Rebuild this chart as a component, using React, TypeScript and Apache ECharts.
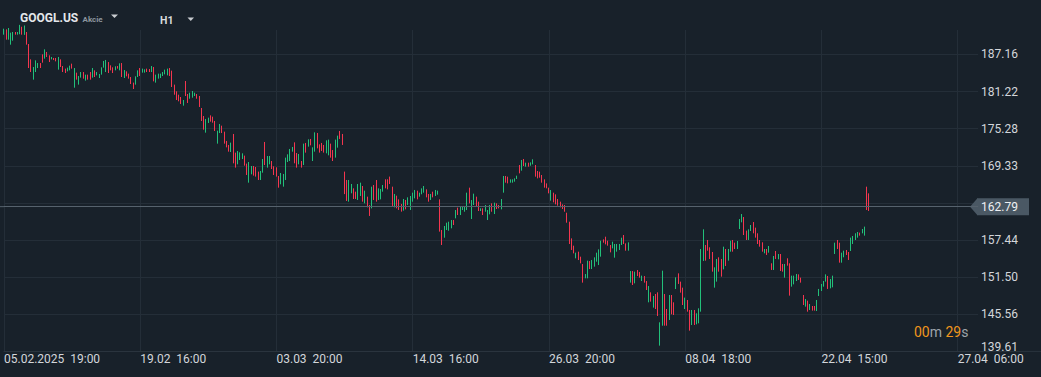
import React, { useEffect, useRef } from "react";
import * as echarts from "echarts";

// X axis tick labels (one every 60 hourly bars)
const xTickLabels = [
  "05.02.2025  19:00",
  "19.02  16:00",
  "03.03  20:00",
  "14.03  16:00",
  "26.03  20:00",
  "08.04  18:00",
  "22.04  15:00",
  "27.04  06:00",
];
const barsPerLabel = 60;
const totalSlots = 430;

// Y axis tick labels
const yTickLabels = ["139.61", "145.56", "151.50", "157.44", "163.39", "169.33", "175.28", "181.22", "187.16"];
const yMin = 139.61;
const yMax = 191.08;
const yStep = 5.94375;

const lastPrice = 162.79;

// [open, close, low, high] hourly candles, GOOGL.US
const candles: number[][] = [
  [190.4, 191.2, 190.33, 191.29], [191.0, 189.7, 189.53, 191.18], [189.8, 191.2, 189.53, 191.4], [189.0, 190.4, 188.73, 190.65],
  [189.6, 190.6, 189.37, 190.76], [190.7, 190.4, 190.33, 190.76], [190.4, 190.7, 190.33, 190.76], [190.5, 190.9, 190.4, 191.9],
  [190.9, 190.5, 190.33, 191.6], [190.5, 190.8, 190.3, 191.8], [190.6, 188.9, 188.73, 190.76], [188.6, 185.2, 184.99, 188.84],
  [186.2, 184.5, 184.35, 186.38], [183.4, 184.9, 183.13, 185.15], [184.6, 186.0, 184.35, 186.22], [185.1, 185.7, 184.99, 185.79],
  [185.7, 185.1, 184.99, 185.79], [187.0, 186.0, 185.85, 187.18], [186.7, 187.8, 186.49, 187.98], [187.4, 186.9, 186.76, 187.56],
  [186.9, 186.1, 185.95, 187.02], [186.4, 186.7, 186.38, 186.76], [186.6, 186.3, 186.27, 186.6], [186.5, 186.1, 186.06, 186.6],
  [185.0, 186.6, 184.73, 186.76], [186.2, 185.3, 185.15, 186.38], [185.2, 184.5, 184.35, 185.31], [184.8, 184.3, 184.19, 184.89],
  [184.5, 185.0, 184.46, 185.05], [184.7, 185.3, 184.62, 185.37], [185.6, 185.0, 184.89, 185.69], [182.2, 184.7, 181.84, 184.99],
  [184.1, 183.3, 183.13, 184.25], [182.5, 183.5, 182.33, 183.71], [183.6, 184.2, 183.45, 184.35], [184.2, 183.4, 183.29, 184.35],
  [183.1, 183.8, 182.97, 183.93], [183.8, 183.2, 183.13, 183.93], [184.2, 183.3, 183.13, 184.35], [183.6, 184.8, 183.45, 184.99],
  [184.5, 183.7, 183.55, 184.62], [183.9, 184.3, 183.82, 184.35], [183.5, 184.0, 183.39, 184.03], [184.0, 185.0, 183.93, 185.1],
  [185.2, 186.0, 185.05, 186.12], [184.6, 186.1, 184.35, 186.28], [185.8, 184.4, 184.19, 185.95], [185.3, 184.7, 184.62, 185.42],
  [185.0, 184.3, 184.19, 185.1], [184.7, 185.2, 184.62, 185.26], [185.3, 184.9, 184.89, 185.31], [184.7, 185.6, 184.62, 185.74],
  [185.6, 183.8, 183.55, 185.79], [183.5, 184.5, 183.39, 184.67], [184.4, 183.8, 183.66, 184.46], [184.0, 183.4, 183.29, 184.09],
  [183.4, 182.6, 182.43, 183.55], [182.5, 181.8, 181.63, 182.65], [182.5, 183.5, 182.33, 183.66], [183.7, 184.5, 183.55, 184.62],
  [184.8, 183.9, 183.71, 184.99], [184.3, 184.8, 184.25, 184.89], [184.3, 184.7, 184.25, 184.78], [184.8, 184.4, 184.35, 184.89],
  [184.8, 184.4, 184.35, 184.83], [184.5, 185.2, 184.35, 185.31], [185.0, 183.1, 182.86, 185.15], [182.8, 183.8, 182.65, 183.93],
  [183.4, 184.0, 183.29, 184.09], [183.5, 184.0, 183.39, 184.09], [183.8, 184.3, 183.71, 184.35], [184.1, 184.6, 183.98, 184.73],
  [183.9, 184.8, 183.82, 184.89], [184.8, 183.9, 183.71, 184.99], [184.3, 182.2, 181.95, 184.57], [182.1, 180.9, 180.72, 182.33],
  [181.1, 180.0, 179.87, 181.26], [180.6, 179.8, 179.66, 180.72], [180.2, 179.4, 179.23, 180.35], [179.1, 179.8, 178.96, 179.87],
  [182.6, 180.7, 180.51, 182.91], [180.7, 179.5, 179.39, 180.83], [180.2, 180.9, 180.08, 181.04], [180.4, 181.2, 180.24, 181.31],
  [180.6, 181.0, 180.51, 181.04], [180.8, 180.2, 180.08, 180.83], [180.3, 178.9, 178.75, 180.51], [178.4, 176.7, 176.51, 178.59],
  [177.1, 175.4, 175.12, 177.31], [175.0, 176.6, 174.64, 176.83], [176.3, 176.9, 176.19, 177.04], [177.3, 176.5, 176.4, 177.41],
  [177.1, 176.4, 176.24, 177.2], [176.3, 175.1, 174.91, 176.51], [173.2, 174.7, 172.88, 174.96], [174.8, 175.9, 174.58, 176.03],
  [175.6, 174.7, 174.58, 175.76], [174.6, 173.1, 172.88, 174.8], [173.2, 172.4, 172.29, 173.31], [172.5, 171.7, 171.6, 172.67],
  [171.7, 172.9, 171.54, 173.04], [174.1, 170.0, 169.73, 174.43], [171.2, 169.3, 169.04, 171.44], [169.8, 171.5, 169.57, 171.7],
  [170.4, 171.3, 170.26, 171.49], [170.5, 171.2, 170.42, 171.33], [170.8, 169.5, 169.36, 170.96], [169.5, 168.0, 167.86, 169.68],
  [166.9, 169.6, 166.63, 169.94], [168.1, 169.1, 167.97, 169.3], [169.1, 167.9, 167.76, 169.3], [169.0, 167.8, 167.6, 169.14],
  [168.2, 167.2, 167.06, 168.4], [167.2, 168.3, 167.06, 168.5], [168.4, 170.2, 168.23, 170.42], [172.8, 169.7, 169.46, 173.15],
  [169.2, 170.7, 169.04, 170.9], [169.7, 170.7, 169.57, 170.9], [169.9, 169.0, 168.82, 170.1], [169.1, 168.0, 167.86, 169.25],
  [168.9, 167.8, 167.6, 169.09], [167.5, 166.0, 165.83, 167.7], [166.5, 168.0, 166.37, 168.18], [166.2, 167.8, 165.99, 168.02],
  [167.3, 170.4, 167.06, 170.64], [170.1, 171.0, 169.94, 171.17], [170.3, 171.8, 170.1, 172.03], [171.7, 172.3, 171.6, 172.35],
  [172.8, 170.0, 169.73, 173.09], [171.2, 169.3, 169.04, 171.38], [169.7, 171.0, 169.57, 171.22], [170.0, 169.2, 169.04, 170.1],
  [169.7, 172.6, 169.46, 172.88], [172.8, 171.6, 171.44, 172.99], [172.5, 173.4, 172.4, 173.57], [173.5, 172.7, 172.61, 173.63],
  [170.3, 172.1, 170.1, 172.29], [171.8, 174.4, 171.6, 174.69], [174.4, 172.3, 172.13, 174.59], [172.6, 171.6, 171.44, 172.77],
  [172.8, 171.8, 171.7, 172.99], [172.5, 171.6, 171.44, 172.67], [171.5, 173.2, 171.33, 173.41], [171.2, 173.3, 171.01, 173.52],
  [172.7, 170.8, 170.64, 172.88], [171.7, 170.3, 170.1, 171.86], [170.8, 173.3, 170.64, 173.52], [172.4, 174.0, 172.24, 174.16],
  [174.7, 173.8, 173.63, 174.91], [174.3, 172.8, 172.67, 174.43], [168.2, 165.0, 164.8, 168.4], [166.8, 164.0, 163.7, 167.06],
  [163.8, 166.8, 163.59, 167.06], [165.1, 166.3, 164.93, 166.42], [165.5, 164.2, 164.02, 165.72], [165.0, 164.2, 164.02, 165.19],
  [164.0, 166.2, 163.86, 166.42], [164.7, 166.4, 164.5, 166.63], [165.9, 163.8, 163.59, 166.1], [163.5, 165.2, 163.32, 165.35],
  [164.2, 162.9, 162.68, 164.39], [162.9, 161.5, 161.3, 163.06], [162.7, 165.7, 162.52, 165.99], [166.0, 164.0, 163.86, 166.26],
  [166.8, 163.8, 163.59, 167.06], [164.0, 165.5, 163.86, 165.72], [164.1, 165.4, 163.96, 165.62], [165.3, 166.1, 165.19, 166.26],
  [167.0, 165.9, 165.72, 167.17], [167.0, 165.7, 165.56, 167.17], [167.4, 166.6, 166.42, 167.6], [165.7, 163.1, 162.9, 165.99],
  [162.9, 164.6, 162.68, 164.82], [164.3, 162.7, 162.52, 164.55], [163.8, 162.4, 162.26, 163.96], [163.1, 162.1, 161.99, 163.22],
  [162.3, 163.8, 162.15, 164.02], [163.7, 162.5, 162.36, 163.86], [163.2, 164.1, 163.06, 164.28], [162.4, 164.3, 162.26, 164.5],
  [163.7, 164.9, 163.59, 165.03], [164.3, 165.3, 164.12, 165.46], [165.2, 164.1, 163.96, 165.35], [164.5, 165.0, 164.39, 165.03],
  [164.9, 165.6, 164.77, 165.72], [165.2, 166.0, 165.03, 166.1], [165.4, 164.4, 164.28, 165.56], [164.7, 163.7, 163.59, 164.82],
  [164.0, 164.7, 163.86, 164.82], [165.1, 164.4, 164.28, 165.19], [164.6, 165.3, 164.5, 165.46], [164.8, 165.3, 164.71, 165.35],
  [163.6, 159.1, 158.79, 163.96], [158.8, 156.9, 156.65, 159.05], [158.0, 159.5, 157.82, 159.69], [159.2, 160.1, 159.05, 160.22],
  [159.1, 160.2, 158.94, 160.38], [159.5, 160.5, 159.32, 160.65], [160.5, 160.0, 159.85, 160.65], [161.1, 162.1, 160.92, 162.25],
  [162.5, 161.6, 161.45, 162.63], [161.6, 162.7, 161.45, 162.89], [162.3, 162.8, 162.25, 162.89], [162.1, 162.8, 161.98, 162.89],
  [162.5, 164.8, 162.25, 165.03], [165.6, 163.5, 163.32, 165.83], [161.1, 163.6, 160.81, 163.85], [163.2, 164.7, 163.05, 164.87],
  [164.2, 163.0, 162.79, 164.39], [163.4, 162.3, 162.09, 163.59], [162.1, 162.5, 162.09, 162.52], [162.4, 161.6, 161.45, 162.52],
  [162.1, 162.9, 161.98, 163.05], [160.8, 162.1, 160.65, 162.25], [161.7, 162.9, 161.56, 163.05], [163.2, 162.1, 161.98, 163.32],
  [161.8, 163.2, 161.61, 163.43], [163.2, 162.5, 162.41, 163.32], [163.0, 162.6, 162.52, 163.05], [162.5, 163.9, 162.36, 164.01],
  [165.2, 167.5, 165.03, 167.7], [167.6, 166.8, 166.63, 167.7], [167.5, 166.6, 166.52, 167.59], [166.7, 167.1, 166.63, 167.16],
  [166.7, 167.1, 166.63, 167.16], [166.8, 167.3, 166.79, 167.32], [167.3, 167.7, 167.22, 167.75], [169.3, 168.3, 168.12, 169.46],
  [168.7, 170.1, 168.55, 170.26], [170.3, 169.4, 169.3, 170.42], [169.2, 169.8, 169.19, 169.83], [169.8, 169.3, 169.19, 169.83],
  [169.4, 169.8, 169.35, 169.88], [169.6, 170.3, 169.56, 170.37], [169.3, 167.8, 167.59, 169.46], [168.4, 167.5, 167.32, 168.5],
  [168.3, 167.5, 167.43, 168.39], [167.7, 166.8, 166.63, 167.86], [167.0, 166.0, 165.83, 167.16], [166.4, 165.8, 165.72, 166.52],
  [165.7, 165.0, 164.92, 165.83], [163.9, 165.3, 163.75, 165.45], [164.9, 163.6, 163.48, 165.03], [164.6, 163.3, 163.16, 164.76],
  [163.9, 163.1, 162.95, 164.01], [163.5, 162.8, 162.68, 163.59], [163.1, 162.5, 162.41, 163.16], [162.9, 162.1, 161.98, 163.05],
  [161.6, 160.4, 160.22, 161.82], [160.1, 157.1, 156.81, 160.38], [157.5, 156.0, 155.85, 157.71], [156.4, 155.4, 155.31, 156.54],
  [154.6, 155.3, 154.51, 155.42], [155.4, 154.4, 154.24, 155.58], [154.6, 153.8, 153.71, 154.78], [153.3, 150.9, 150.62, 153.6],
  [151.4, 151.9, 151.31, 152.0], [151.5, 153.9, 151.31, 154.14], [153.9, 152.9, 152.8, 154.08], [152.9, 154.1, 152.8, 154.24],
  [153.3, 154.5, 153.18, 154.67], [154.1, 155.3, 153.98, 155.42], [153.6, 155.7, 153.44, 155.95], [155.0, 157.1, 154.78, 157.34],
  [157.5, 157.1, 157.02, 157.55], [157.8, 156.9, 156.75, 157.98], [157.2, 156.6, 156.54, 157.34], [156.5, 155.6, 155.47, 156.65],
  [156.2, 157.1, 156.11, 157.18], [154.8, 156.6, 154.62, 156.81], [155.7, 156.7, 155.58, 156.81], [155.9, 156.7, 155.85, 156.81],
  [156.8, 157.7, 156.65, 157.82], [158.1, 156.9, 156.81, 158.25], [156.8, 155.9, 155.74, 156.91], [155.9, 157.0, 155.74, 157.07],
  [150.8, 152.3, 150.62, 152.48], [152.3, 150.4, 150.24, 152.48], [150.7, 152.2, 150.51, 152.38], [152.5, 151.8, 151.68, 152.64],
  [152.2, 151.5, 151.42, 152.32], [151.0, 151.7, 150.88, 151.74], [151.5, 150.7, 150.62, 151.68], [150.7, 149.6, 149.44, 150.88],
  [147.7, 149.9, 147.47, 150.08], [148.9, 147.7, 147.58, 149.07], [146.8, 148.3, 146.62, 148.48], [148.6, 146.6, 146.4, 148.8],
  [148.8, 145.6, 145.28, 149.07], [140.9, 144.0, 140.53, 144.27], [144.0, 152.2, 143.73, 152.54], [148.5, 144.0, 143.73, 148.8],
  [146.2, 144.0, 143.73, 146.4], [145.0, 148.3, 144.64, 148.64], [148.4, 145.8, 145.55, 148.64], [147.3, 145.6, 145.44, 147.47],
  [149.8, 151.3, 149.6, 151.47], [151.9, 150.6, 150.41, 152.11], [150.6, 149.2, 149.02, 150.78], [149.6, 147.3, 147.04, 149.82],
  [146.6, 148.0, 146.4, 148.22], [147.6, 146.2, 145.97, 147.84], [146.0, 143.2, 142.93, 146.24], [144.1, 146.0, 143.84, 146.24],
  [146.0, 144.1, 143.84, 146.24], [144.2, 145.5, 143.95, 145.71], [144.4, 146.3, 144.11, 146.51], [146.3, 155.7, 145.97, 156.01],
  [154.4, 158.8, 154.09, 159.16], [156.4, 154.4, 154.14, 156.65], [157.3, 155.9, 155.74, 157.45], [156.1, 154.6, 154.41, 156.28],
  [155.3, 152.6, 152.38, 155.53], [150.1, 152.8, 149.82, 153.07], [151.0, 154.1, 150.78, 154.41], [154.5, 152.6, 152.38, 154.68],
  [154.2, 151.8, 151.58, 154.41], [153.0, 156.1, 152.75, 156.38], [155.8, 153.5, 153.29, 156.01], [154.3, 155.8, 154.14, 156.01],
  [155.7, 157.2, 155.58, 157.34], [157.3, 155.7, 155.58, 157.45], [156.9, 156.1, 156.01, 157.02], [156.1, 157.2, 156.01, 157.29],
  [159.4, 160.6, 159.21, 160.81], [160.4, 161.5, 160.28, 161.61], [160.9, 158.5, 158.25, 161.13], [158.8, 157.6, 157.45, 158.95],
  [157.6, 159.0, 157.45, 159.16], [159.0, 159.8, 158.89, 159.85], [160.1, 158.7, 158.52, 160.33], [159.3, 158.0, 157.83, 159.43],
  [158.3, 157.0, 156.81, 158.52], [157.3, 156.5, 156.38, 157.45], [156.9, 155.7, 155.58, 157.08], [155.4, 155.9, 155.32, 156.01],
  [155.9, 155.2, 155.05, 156.01], [155.5, 156.4, 155.42, 156.49], [153.6, 152.8, 152.65, 153.72], [152.8, 154.7, 152.65, 154.89],
  [155.5, 154.5, 154.41, 155.69], [154.5, 155.1, 154.36, 155.21], [155.0, 152.7, 152.49, 155.21], [153.5, 152.5, 152.38, 153.61],
  [151.6, 153.4, 151.42, 153.61], [154.4, 153.5, 153.34, 154.52], [153.4, 148.9, 148.54, 153.72], [150.2, 151.6, 149.98, 151.74],
  [150.5, 151.6, 150.35, 151.74], [151.0, 151.9, 150.88, 152.01], [151.8, 151.2, 151.05, 151.95], [151.3, 150.7, 150.62, 151.42],
  [148.5, 147.2, 147.04, 148.64], [146.9, 147.9, 146.78, 148.0], [147.6, 146.1, 145.97, 147.74], [146.3, 147.1, 146.24, 147.2],
  [146.8, 146.2, 146.14, 146.88], [146.8, 146.2, 146.14, 146.88], [146.2, 147.7, 146.08, 147.84], [148.6, 149.5, 148.48, 149.61],
  [149.4, 150.3, 149.28, 150.41], [150.1, 150.8, 149.98, 150.89], [150.9, 151.8, 150.78, 151.95], [151.5, 149.8, 149.61, 151.69],
  [149.9, 151.1, 149.71, 151.21], [150.0, 151.6, 149.87, 151.74], [155.4, 156.9, 155.21, 157.02], [157.3, 156.2, 156.01, 157.45],
  [156.8, 154.1, 153.82, 157.02], [154.0, 155.3, 153.82, 155.42], [154.8, 155.6, 154.68, 155.74], [155.7, 155.2, 155.05, 155.85],
  [155.4, 154.4, 154.25, 155.53], [155.9, 157.6, 155.69, 157.83], [157.0, 158.0, 156.81, 158.09], [157.6, 158.4, 157.45, 158.52],
  [157.9, 158.6, 157.83, 158.73], [158.6, 158.2, 158.15, 158.63], [158.6, 159.1, 158.52, 159.21], [158.3, 159.5, 158.15, 159.59],
  [165.7, 162.5, 162.26, 165.99], [164.6, 162.79, 162.1, 164.92],
];

const UP = "#22c07a";
const DOWN = "#f4364f";
const BG = "#18212a";
const GRID = "#242e38";
const TEXT = "#d3d6da";
const FONT = "Roboto, 'Noto Sans', sans-serif";

export default function App() {
  const ref = useRef<HTMLDivElement>(null);

  useEffect(() => {
    document.body.style.margin = "0";
    if (!ref.current) return;
    const chart = echarts.init(ref.current, undefined, { renderer: "svg" });
    const categories = Array.from({ length: totalSlots }, (_, i) => String(i));
    const gridColors = yTickLabels.map(() => GRID).concat(["rgba(0,0,0,0)"]);

    chart.setOption({
      animation: false,
      backgroundColor: BG,
      grid: { left: 4, width: 974.1, top: 30, bottom: 25.6 },
      xAxis: {
        type: "category",
        data: categories,
        boundaryGap: false,
        axisLine: { show: true, lineStyle: { color: "#2a343e", width: 1 } },
        axisTick: { show: false },
        axisLabel: {
          interval: (i: number) => i % barsPerLabel === 0,
          formatter: (_v: string, i: number) => xTickLabels[Math.round(i / barsPerLabel)] ?? "",
          align: "left",
          color: TEXT,
          fontSize: 12,
          fontFamily: FONT,
          margin: 2,
        },
        splitLine: {
          show: true,
          interval: (i: number) => i % barsPerLabel === 0,
          lineStyle: { color: GRID, width: 1 },
        },
      },
      yAxis: {
        type: "value",
        position: "right",
        min: yMin,
        max: yMax,
        interval: yStep,
        scale: true,
        axisLine: { show: false },
        axisTick: { show: false },
        splitLine: { show: true, lineStyle: { color: gridColors, width: 1 } },
        axisLabel: {
          margin: 3,
          color: TEXT,
          fontSize: 12,
          fontFamily: FONT,
          formatter: (v: number, i: number) => {
            if (i >= yTickLabels.length) return "";
            if (Math.abs(v - lastPrice) < 2.5) return "";
            if (i === 0) return "{b|" + yTickLabels[i] + "}";
            return yTickLabels[i];
          },
          rich: {
            b: { color: TEXT, fontSize: 12, fontFamily: FONT, padding: [0, 0, 9, 0] },
          },
        },
      },
      series: [
        {
          type: "candlestick",
          data: candles,
          barWidth: 1,
          clip: false,
          itemStyle: {
            color: UP,
            color0: DOWN,
            borderColor: UP,
            borderColor0: DOWN,
            borderWidth: 1,
          },
          markLine: {
            silent: true,
            symbol: "none",
            label: { show: false },
            lineStyle: { color: "#56626d", width: 1, type: "solid" },
            data: [{ yAxis: lastPrice }],
          },
        },
      ],
    });

    const py = chart.convertToPixel({ yAxisIndex: 0 }, lastPrice) as number;
    const axisY = chart.convertToPixel({ yAxisIndex: 0 }, yMin) as number;

    chart.setOption({
      graphic: [
        { type: "line", shape: { x1: 0, y1: py, x2: 4, y2: py }, style: { stroke: "#56626d", lineWidth: 1 } },
        { type: "line", shape: { x1: 978, y1: axisY, x2: 1041, y2: axisY }, style: { stroke: "#2a343e", lineWidth: 1 } },
        {
          type: "polygon",
          shape: { points: [[970, py], [977.5, py - 8.5], [977.5, py + 8.5]] },
          style: { fill: "#4a5864" },
        },
        { type: "rect", shape: { x: 977, y: py - 8.5, width: 52, height: 17 }, style: { fill: "#4a5864" } },
        {
          type: "text",
          x: 981,
          y: py,
          style: { text: lastPrice.toFixed(2), fill: "#eef0f2", font: "12px " + FONT, verticalAlign: "middle" },
        },
        {
          type: "text",
          x: 20,
          y: 17.5,
          style: { text: "GOOGL.US", fill: "#e4e7ea", font: "bold 12px " + FONT, verticalAlign: "middle" },
        },
        {
          type: "text",
          x: 82.5,
          y: 19.5,
          style: { text: "Akcie", fill: "#8c959d", font: "bold 8px " + FONT, verticalAlign: "middle" },
        },
        { type: "polygon", shape: { points: [[111, 14.5], [118, 14.5], [114.5, 18]] }, style: { fill: "#c9cdd1" } },
        {
          type: "text",
          x: 160,
          y: 20.5,
          style: { text: "H1", fill: "#d8dbde", font: "bold 10.5px " + FONT, verticalAlign: "middle" },
        },
        { type: "polygon", shape: { points: [[187.5, 17.5], [194, 17.5], [190.75, 21]] }, style: { fill: "#c9cdd1" } },
        {
          type: "text",
          x: 914,
          y: 332,
          style: {
            text: "{o|00}{g|m} {o|29}{g|s}",
            verticalAlign: "middle",
            font: "14px " + FONT,
            rich: {
              o: { fill: "#f0961c", fontSize: 14, fontFamily: FONT },
              g: { fill: "#9ea5ab", fontSize: 14, fontFamily: FONT },
            },
          },
        },
      ],
    });

    return () => chart.dispose();
  }, []);

  return (
    <div
      ref={ref}
      style={{ position: "absolute", left: 0, top: 0, width: 1041, height: 377 }}
    />
  );
}
